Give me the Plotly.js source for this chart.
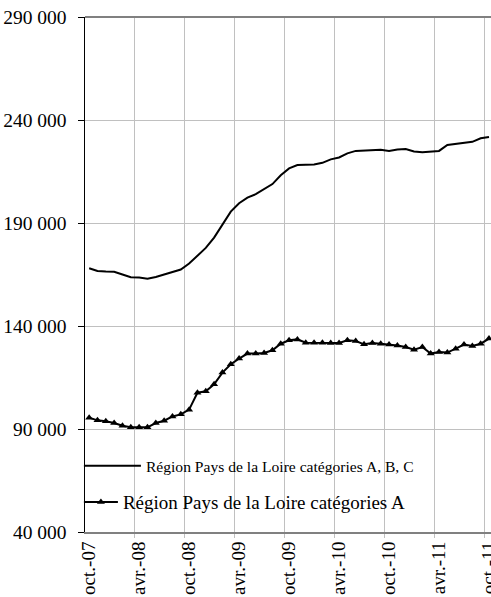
<!DOCTYPE html>
<html>
<head>
<meta charset="utf-8">
<script src="https://cdn.plot.ly/plotly-3.0.1.min.js"></script>
<style>html,body{margin:0;padding:0;background:#fff;}#chart{width:491px;height:597px;}</style>
</head>
<body>
<div id="chart"></div>
<script>
// Months oct-07 .. oct-11 (49 monthly points)
const monthLabels = ["oct.-07","avr.-08","oct.-08","avr.-09","oct.-09","avr.-10","oct.-10","avr.-11","oct.-11"];
const labelIndex = [0,6,12,18,24,30,36,42,48];
const boundaryIndex = [5.5,11.5,17.5,23.5,29.5,35.5,41.5,47.5];

const seriesABC = [168000,166700,166400,166300,165000,163700,163500,163000,163800,165100,
  166100,167400,170300,173900,177900,182900,188900,195500,199600,202300,
  204000,206400,208900,213200,216500,218100,218200,218400,219200,220900,
  221800,223800,225000,225200,225200,225500,225000,225700,225900,224700,
  224400,224600,225000,227900,228400,228900,229400,231100,231800];

const seriesA = [95500,94200,93800,92900,91600,90800,90800,90800,92900,94000,
  96100,97100,99400,107600,108300,111700,117400,121400,124200,126600,
  126600,126900,128200,131400,133100,133500,131900,131900,131900,131800,
  131800,133100,132700,131100,131700,131400,131000,130500,129800,128500,
  129800,126600,127400,127100,129000,131000,130300,131400,133900];

const yTickVals = [40000,90000,140000,190000,240000,290000];
const yTickText = ["40 000","90 000","140 000","190 000","240 000","290 000"];

const nameABC = "Région Pays de la Loire catégories A, B, C";
const nameA = "Région Pays de la Loire catégories A";

const idx = seriesABC.map((_, i) => i);
const FONT = "Liberation Serif, Times New Roman, serif";
const FS = 19;

const traces = [
  {x: idx, y: seriesABC, type: "scatter", mode: "lines", name: nameABC,
   legend: "legend", line: {color: "#000", width: 2}},
  {x: idx, y: seriesA, type: "scatter", mode: "lines+markers", name: nameA,
   legend: "legend2", line: {color: "#000", width: 2},
   marker: {symbol: "triangle-up", size: 7, color: "#000"}}
];

const layout = {
  width: 491, height: 597,
  margin: {l: 85, r: 0, t: 17, b: 65, pad: 0},
  paper_bgcolor: "#fff", plot_bgcolor: "#fff",
  font: {family: FONT, size: FS, color: "#000"},
  showlegend: true,
  legend: {x: -0.015, xanchor: "left", y: 0.128, yanchor: "middle", bgcolor: "rgba(255,255,255,0)",
    itemwidth: 57, font: {family: FONT, size: 15.6, color: "#000"}},
  legend2: {x: -0.015, xanchor: "left", y: 0.058, yanchor: "middle", bgcolor: "rgba(255,255,255,0)",
    itemwidth: 34, font: {family: FONT, size: FS, color: "#000"}},
  xaxis: {
    range: [-0.5, 48.24], tickmode: "array", tickvals: labelIndex, ticktext: monthLabels,
    tickangle: -90, showgrid: false, ticks: "", showline: true, linecolor: "#808080", linewidth: 2,
    zeroline: false, ticklabeloverflow: "allow", tickfont: {family: FONT, size: FS, color: "#000"},
    minor: {tickmode: "array", tickvals: boundaryIndex, showgrid: true, gridcolor: "#c0c0c0", gridwidth: 1,
      ticks: "outside", ticklen: 4, tickcolor: "#c0c0c0"}
  },
  yaxis: {
    range: [40000, 290000], tickmode: "array", tickvals: yTickVals, ticktext: yTickText,
    showgrid: true, gridcolor: "#c0c0c0", gridwidth: 1, zeroline: false,
    showline: true, linecolor: "#000", linewidth: 1.5, ticks: "outside", ticklen: 6, tickcolor: "#000",
    ticklabelstandoff: 7, tickfont: {family: FONT, size: 19.5, color: "#000"}
  },
  shapes: [
    {type: "line", xref: "paper", yref: "paper", x0: 0, x1: 1, y0: 1, y1: 1, line: {color: "#808080", width: 2}},
    {type: "rect", xref: "paper", yref: "paper", x0: 0.003, x1: 1, y0: 0.035, y1: 0.17, layer: "between",
     fillcolor: "#fff", line: {width: 0}}
  ]
};

Plotly.newPlot("chart", traces, layout, {displayModeBar: false, staticPlot: true});
</script>
</body>
</html>
